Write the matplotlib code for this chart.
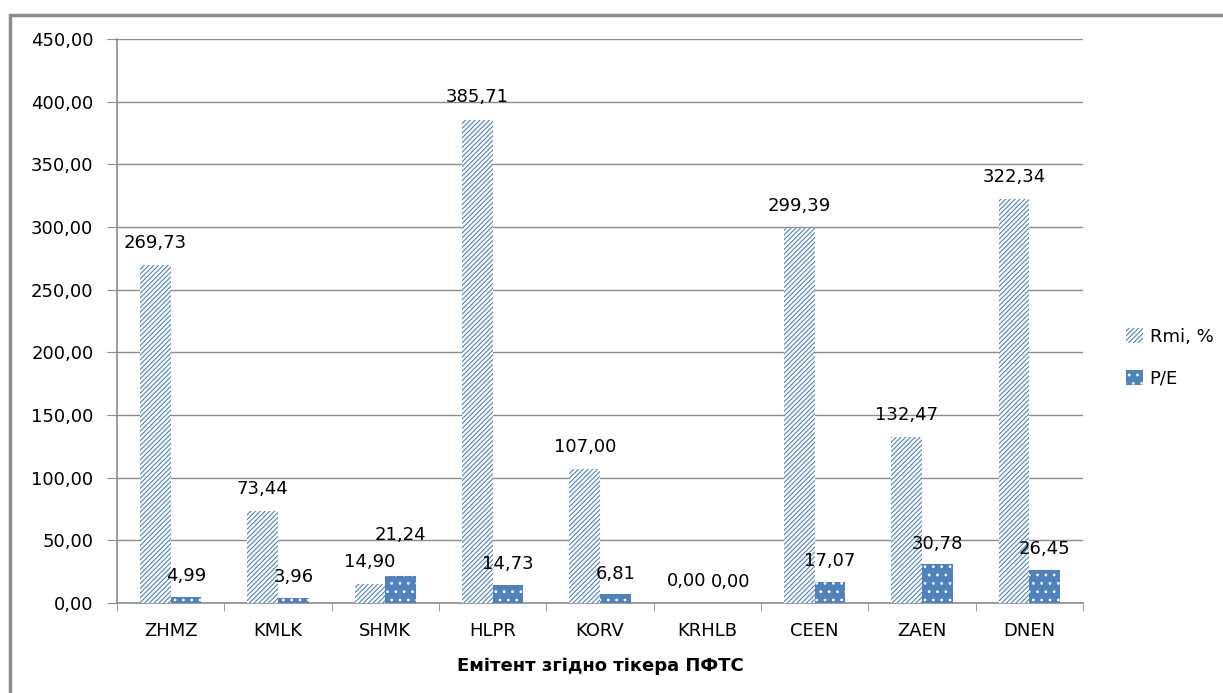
import matplotlib.pyplot as plt
import numpy as np
from matplotlib.patches import Rectangle

plt.rcParams['font.family'] = ['DejaVu Sans']
plt.rcParams['hatch.linewidth'] = 0.8

tickers = ["ZHMZ", "KMLK", "SHMK", "HLPR", "KORV", "KRHLB", "CEEN", "ZAEN", "DNEN"]
rmi = [269.73, 73.44, 14.90, 385.71, 107.00, 0.00, 299.39, 132.47, 322.34]
pe = [4.99, 3.96, 21.24, 14.73, 6.81, 0.00, 17.07, 30.78, 26.45]
y_ticks = [0, 50, 100, 150, 200, 250, 300, 350, 400, 450]

blue = "#4F81BD"
grid_gray = "#8C8C8C"


def fmt(v):
    return f"{v:.2f}".replace(".", ",")


fig = plt.figure(figsize=(12.23, 6.93), dpi=100)
ax = fig.add_axes([0.0957, 0.1299, 0.7898, 0.8138])

x = np.arange(len(tickers))
w = 0.285

ax.bar(x - w / 2, rmi, width=w, facecolor="white", edgecolor=blue,
       hatch="///////", linewidth=0, label="Rmi, %", zorder=3)
ax.bar(x + w / 2, pe, width=w, facecolor=blue, edgecolor="white",
       hatch="..", linewidth=0, label="P/E", zorder=3)

ax.set_xlim(-0.5, len(tickers) - 0.5)
ax.set_ylim(0, 450)
ax.set_yticks(y_ticks)
ax.set_yticklabels([fmt(v) for v in y_ticks], fontsize=13)
ax.set_xticks(x)
ax.set_xticklabels(tickers, fontsize=13)
ax.set_xticks(np.arange(len(tickers) + 1) - 0.5, minor=True)

ax.grid(axis="y", color=grid_gray, linewidth=1, zorder=0)
for s in ["top", "right"]:
    ax.spines[s].set_visible(False)
for s in ["left", "bottom"]:
    ax.spines[s].set_color(grid_gray)
    ax.spines[s].set_linewidth(1.2)
ax.tick_params(axis="y", length=7, color=grid_gray, pad=10)
ax.tick_params(axis="x", which="major", length=0, pad=14)
ax.tick_params(axis="x", which="minor", length=6, color=grid_gray)

ax.set_xlabel("Емітент згідно тікера ПФТС", fontsize=13, fontweight="bold", labelpad=12)

# value labels above each bar; zero pairs are nudged apart
for i, (xi, v) in enumerate(zip(x - w / 2, rmi)):
    dx = -4 if v == 0 and pe[i] == 0 else 0
    ax.annotate(fmt(v), (xi, v), xytext=(dx, 16), textcoords="offset points",
                ha="center", va="center", fontsize=13, zorder=5)
for i, (xi, v) in enumerate(zip(x + w / 2, pe)):
    off = 30 if tickers[i] == "SHMK" else 15
    dx = 6 if v == 0 and rmi[i] == 0 else 0
    ax.annotate(fmt(v), (xi, v), xytext=(dx, off), textcoords="offset points",
                ha="center", va="center", fontsize=13, zorder=5)

ax.legend(loc="center left", bbox_to_anchor=(1.028, 0.435), frameon=False,
          fontsize=13, handlelength=0.9, handleheight=0.9, handletextpad=0.4,
          labelspacing=1.3)

# outer chart frame (top and left edges visible)
fig.patches.append(Rectangle((10 / 1223, -0.1), 1.05, 1.1 - 15 / 693,
                             transform=fig.transFigure, fill=False,
                             edgecolor="#8C8C8C", linewidth=2.5))

fig.savefig("out.png", dpi=100)
